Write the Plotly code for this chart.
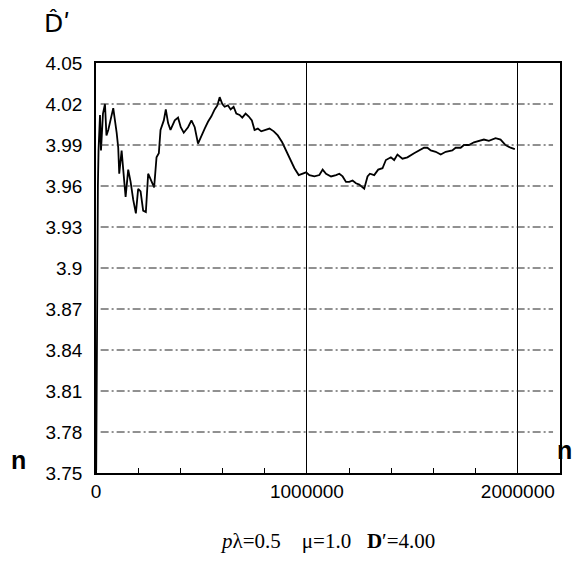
import plotly.graph_objects as go

# n values (thousands -> converted below) and estimator values
n_thousands = [1, 2.5, 4, 5.5, 7, 9, 12, 18.9, 23.6, 33.1, 42.6, 49.6, 58.2, 66.2, 74.2, 81.8,
               97.9, 105.4, 110.2, 121.5, 129.1, 140.4, 152.7, 164.1, 176.4, 189.1, 200, 211.3,
               223.6, 236.4, 247.3, 263.4, 275.6, 287, 297.9, 305.9, 321.5, 331, 341.8, 353.2,
               373.5, 389.1, 401.9, 416.1, 436.4, 452.5, 468.1, 483.7, 499.8, 515.4, 531, 547,
               562.6, 575.4, 586.3, 599, 609.9, 625.5, 638.3, 652.5, 665.2, 680.8, 693.6, 709.2,
               723.4, 739, 751.8, 767.4, 783.4, 799, 822.7, 843, 861.9, 882.7, 904.5, 925.3,
               940.9, 961.2, 980.1, 996.2, 1011.8, 1035.4, 1059.1, 1074.7, 1090.8, 1114.4,
               1138.1, 1153.7, 1169.3, 1185.3, 1200.9, 1216.5, 1232.6, 1248.2, 1271.8, 1287.4,
               1298.8, 1319.1, 1338, 1358.4, 1374.4, 1398.1, 1413.7, 1429.3, 1452.9, 1476.6,
               1508.2, 1531.9, 1555.5, 1571.1, 1587.2, 1610.8, 1634.5, 1658.1, 1689.3, 1705.4,
               1729, 1744.6, 1768.3, 1791.9, 1815.6, 1839.2, 1862.8, 1894.5, 1918.2, 1941.8,
               1965.4, 1985.8]
d_hat = [3.752, 3.80, 3.90, 3.95, 3.893, 3.96, 3.986, 4.012, 3.986, 4.013, 4.020, 3.997, 4.001,
         4.006, 4.010, 4.017, 3.999, 3.988, 3.969, 3.986, 3.972, 3.952, 3.972, 3.963, 3.950,
         3.940, 3.958, 3.956, 3.942, 3.941, 3.969, 3.964, 3.959, 3.981, 3.984, 4.001, 4.008,
         4.016, 4.006, 4.001, 4.008, 4.010, 4.003, 3.999, 4.003, 4.008, 4.003, 3.991, 3.996,
         4.002, 4.007, 4.011, 4.016, 4.019, 4.025, 4.020, 4.018, 4.019, 4.016, 4.018, 4.013,
         4.012, 4.010, 4.013, 4.011, 4.008, 4.001, 4.002, 4.000, 4.001, 4.002, 4.000, 3.997,
         3.992, 3.985, 3.979, 3.973, 3.968, 3.969, 3.970, 3.968, 3.967, 3.968, 3.972, 3.969,
         3.967, 3.968, 3.969, 3.967, 3.963, 3.963, 3.964, 3.962, 3.961, 3.958, 3.967, 3.969,
         3.968, 3.972, 3.973, 3.979, 3.981, 3.979, 3.983, 3.980, 3.981, 3.984, 3.986, 3.988,
         3.988, 3.986, 3.985, 3.983, 3.985, 3.986, 3.988, 3.988, 3.990, 3.990, 3.992, 3.993,
         3.994, 3.993, 3.995, 3.994, 3.990, 3.988, 3.987]
n_values = [v * 1000 for v in n_thousands]

y_ticks = [3.75, 3.78, 3.81, 3.84, 3.87, 3.90, 3.93, 3.96, 3.99, 4.02, 4.05]
y_labels = ["3.75", "3.78", "3.81", "3.84", "3.87", "3.9", "3.93", "3.96", "3.99", "4.02", "4.05"]
x_ticks = [0, 1000000, 2000000]
x_labels = ["0", "1000000", "2000000"]
caption = "<i>p</i>λ=0.5&nbsp;&nbsp;&nbsp;&nbsp;μ=1.0&nbsp;&nbsp;&nbsp;<b>D</b>′=4.00"

fig = go.Figure()

# horizontal broken grid lines
for yv in y_ticks[1:-1]:
    fig.add_shape(type="line", xref="paper", yref="y", x0=0.01, x1=0.985, y0=yv, y1=yv,
                  line=dict(color="#222", width=1, dash="8px,3px,2px,3px"))

fig.add_trace(go.Scatter(x=n_values, y=d_hat, mode="lines",
                         line=dict(color="black", width=1.8), showlegend=False))

fig.update_layout(
    width=576, height=562,
    margin=dict(l=96, r=16, t=63, b=89),
    paper_bgcolor="white", plot_bgcolor="white",
    font=dict(family="Liberation Sans, Arial, sans-serif", size=19, color="black"),
    xaxis=dict(range=[0, 2200000], tickmode="array", tickvals=x_ticks, ticktext=x_labels,
               showgrid=True, gridcolor="black", gridwidth=1.3, ticks="",
               showline=True, linecolor="black", linewidth=1.5, mirror=True,
               zeroline=False, tickfont=dict(size=19),
               minor=dict(tickmode="linear", tick0=0, dtick=200000, ticks="inside",
                          ticklen=5, tickcolor="black", showgrid=False)),
    yaxis=dict(range=[3.75, 4.05], tickmode="array", tickvals=y_ticks, ticktext=y_labels,
               showgrid=False, ticks="", showline=True, linecolor="black", linewidth=1.5,
               mirror=True, zeroline=False, tickfont=dict(size=19), ticklabelstandoff=8),
    annotations=[
        dict(text="D̂ʹ", x=57, y=24, showarrow=False,
             font=dict(size=25, family="DejaVu Sans"), xanchor="center", yanchor="middle"),
        dict(text="<b>n</b>", x=18, y=460, showarrow=False, font=dict(size=25),
             xanchor="center", yanchor="middle"),
        dict(text="<b>n</b>", x=564, y=450, showarrow=False, font=dict(size=25),
             xanchor="center", yanchor="middle"),
        dict(text=caption, x=327, y=541, showarrow=False,
             font=dict(size=21, family="Liberation Serif, Times New Roman, serif"),
             xanchor="center", yanchor="middle"),
    ],
)

# place annotations in pixel coordinates relative to the full page
pw, ph = 576 - 96 - 16, 562 - 63 - 89
for a in fig.layout.annotations:
    px, py = a.x, a.y
    a.xref = "paper"; a.yref = "paper"
    a.x = (px - 96) / pw
    a.y = (562 - 89 - py) / ph

fig.write_html("out.html")
